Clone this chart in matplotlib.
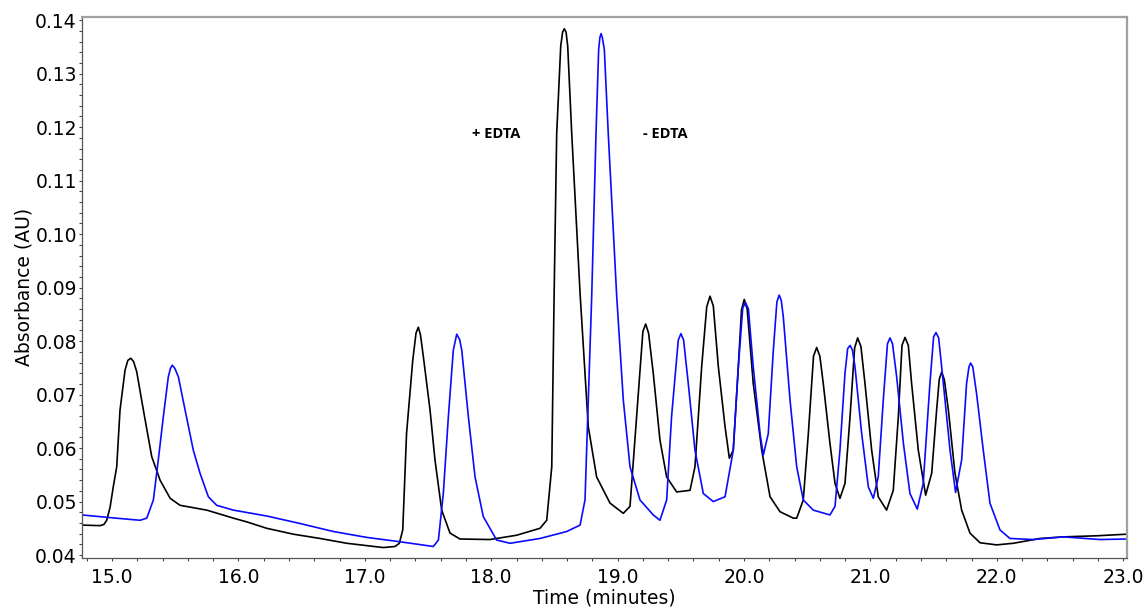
import matplotlib
matplotlib.use("Agg")
import matplotlib.pyplot as plt
from matplotlib.ticker import MultipleLocator, FormatStrFormatter

plt.rcParams["font.family"] = ["DejaVu Sans"]

# +EDTA trace (black)
time_plus = [14.76, 14.905, 14.935, 14.958, 14.985, 15.01, 15.037, 15.063, 15.103, 15.125, 15.148,
             15.17, 15.195, 15.248, 15.314, 15.38, 15.46, 15.538, 15.749, 15.96, 16.066, 16.224,
             16.434, 16.646, 16.857, 17.146, 17.239, 17.273, 17.3, 17.33, 17.379, 17.405, 17.423,
             17.44, 17.463, 17.516, 17.555, 17.608, 17.674, 17.753, 17.99, 18.2, 18.386, 18.439,
             18.479, 18.497, 18.518, 18.55, 18.565, 18.578, 18.592, 18.605, 18.637, 18.703, 18.768,
             18.834, 18.94, 19.045, 19.098, 19.15, 19.2, 19.222, 19.245, 19.282, 19.335, 19.388,
             19.467, 19.573, 19.612, 19.665, 19.705, 19.731, 19.757, 19.797, 19.85, 19.884, 19.915,
             19.955, 19.98, 20.002, 20.025, 20.073, 20.14, 20.206, 20.285, 20.39, 20.417, 20.469,
             20.509, 20.55, 20.575, 20.6, 20.627, 20.68, 20.72, 20.759, 20.799, 20.839, 20.875,
             20.899, 20.925, 20.957, 21.01, 21.062, 21.128, 21.181, 21.221, 21.25, 21.274, 21.3,
             21.326, 21.379, 21.437, 21.485, 21.524, 21.545, 21.564, 21.585, 21.617, 21.669,
             21.722, 21.788, 21.867, 21.999, 22.131, 22.342, 22.527, 22.79, 23.027]
abs_plus = [0.0456, 0.0455, 0.0457, 0.0465, 0.049, 0.0528, 0.0565, 0.0671, 0.0746, 0.0764, 0.0768,
            0.0762, 0.0743, 0.0671, 0.0584, 0.054, 0.0506, 0.0493, 0.0484, 0.0469, 0.0462, 0.045,
            0.0439, 0.0431, 0.0422, 0.0414, 0.0416, 0.0422, 0.0447, 0.0627, 0.0764, 0.0815, 0.0826,
            0.0812, 0.0771, 0.0671, 0.0578, 0.0484, 0.0441, 0.043, 0.0429, 0.0437, 0.045, 0.0465,
            0.0565, 0.0877, 0.1188, 0.1352, 0.1378, 0.1384, 0.1378, 0.1352, 0.1188, 0.0889, 0.064,
            0.0546, 0.0497, 0.0478, 0.0491, 0.0659, 0.0818, 0.0832, 0.0815, 0.074, 0.0615, 0.0546,
            0.0518, 0.0521, 0.0565, 0.0752, 0.0864, 0.0884, 0.0866, 0.0752, 0.064, 0.0581, 0.0596,
            0.0752, 0.0858, 0.0878, 0.086, 0.0721, 0.0596, 0.0509, 0.0481, 0.0469, 0.0469, 0.0503,
            0.0627, 0.0772, 0.0788, 0.0772, 0.0721, 0.0609, 0.0534, 0.0506, 0.0534, 0.0659, 0.0787,
            0.0806, 0.079, 0.0721, 0.0596, 0.0509, 0.0484, 0.0521, 0.0659, 0.0792, 0.0807, 0.0792,
            0.0721, 0.0596, 0.0512, 0.0553, 0.0671, 0.0729, 0.0742, 0.0728, 0.0671, 0.0553,
            0.0484, 0.0441, 0.0423, 0.0419, 0.0422, 0.0431, 0.0434, 0.0436, 0.0439]

# -EDTA trace (blue)
time_minus = [14.76, 14.984, 15.222, 15.275, 15.327, 15.366, 15.406, 15.445, 15.462, 15.477, 15.497,
              15.525, 15.578, 15.643, 15.696, 15.762, 15.828, 15.96, 16.224, 16.487, 16.751, 17.015,
              17.273, 17.542, 17.582, 17.621, 17.661, 17.7, 17.727, 17.75, 17.767, 17.819, 17.872,
              17.937, 18.043, 18.149, 18.386, 18.597, 18.703, 18.742, 18.768, 18.795, 18.829, 18.85,
              18.86, 18.869, 18.879, 18.895, 18.926, 18.993, 19.045, 19.098, 19.177, 19.282, 19.335,
              19.388, 19.427, 19.48, 19.501, 19.522, 19.559, 19.612, 19.678, 19.757, 19.85, 19.915,
              19.955, 19.99, 20.012, 20.035, 20.073, 20.127, 20.153, 20.192, 20.232, 20.26, 20.278,
              20.295, 20.311, 20.364, 20.417, 20.469, 20.548, 20.68, 20.72, 20.759, 20.799, 20.82,
              20.839, 20.858, 20.878, 20.931, 20.984, 21.023, 21.062, 21.102, 21.135, 21.155, 21.175,
              21.208, 21.261, 21.313, 21.371, 21.418, 21.471, 21.5, 21.519, 21.54, 21.572, 21.63,
              21.674, 21.722, 21.761, 21.78, 21.793, 21.81, 21.84, 21.893, 21.946, 22.025, 22.104,
              22.289, 22.527, 22.816, 23.027]
abs_minus = [0.0475, 0.047, 0.0465, 0.0469, 0.0503, 0.0578, 0.0659, 0.0733, 0.0749, 0.0755, 0.0749,
             0.0733, 0.0671, 0.0596, 0.0553, 0.0509, 0.0493, 0.0484, 0.0473, 0.0459, 0.0444, 0.0433,
             0.0425, 0.0416, 0.0428, 0.0515, 0.0659, 0.0783, 0.0813, 0.0803, 0.0783, 0.0659, 0.0546,
             0.0472, 0.0428, 0.0422, 0.0431, 0.0444, 0.0456, 0.0503, 0.069, 0.0883, 0.1188, 0.1345,
             0.1368, 0.1375, 0.1368, 0.1345, 0.1188, 0.0883, 0.069, 0.0565, 0.0503, 0.0475, 0.0465,
             0.0503, 0.0659, 0.0802, 0.0814, 0.0802, 0.0721, 0.0596, 0.0515, 0.05, 0.0509, 0.0596,
             0.0752, 0.0862, 0.0872, 0.086, 0.0752, 0.0627, 0.0587, 0.0627, 0.0783, 0.0873, 0.0886,
             0.0876, 0.0845, 0.069, 0.0565, 0.0503, 0.0484, 0.0475, 0.0491, 0.0596, 0.074, 0.0786,
             0.0792, 0.0783, 0.0752, 0.0627, 0.0527, 0.0506, 0.0546, 0.069, 0.0795, 0.0806, 0.0795,
             0.0733, 0.0609, 0.0515, 0.0486, 0.0534, 0.0721, 0.0808, 0.0816, 0.0806, 0.0733, 0.0596,
             0.0517, 0.0578, 0.0721, 0.0752, 0.0759, 0.0752, 0.0702, 0.0596, 0.0497, 0.0447, 0.0431,
             0.0429, 0.0434, 0.0429, 0.043]

fig = plt.figure(figsize=(11.46, 6.08), dpi=100)
ax = fig.add_axes([0.0713, 0.0827, 0.9121, 0.8893])

ax.plot(time_plus, abs_plus, color="black", lw=1.2)
ax.plot(time_minus, abs_minus, color="#0a0aff", lw=1.2)

ax.text(18.04, 0.1188, "+ EDTA", fontsize=10.5, fontweight="bold", family=["Open Sans", "DejaVu Sans"],
        ha="center", va="center")
ax.text(19.38, 0.1188, "- EDTA", fontsize=10.5, fontweight="bold", family=["Open Sans", "DejaVu Sans"],
        ha="center", va="center")

ax.set_xlim(14.76, 23.03)
ax.set_ylim(0.0395, 0.1406)
ax.xaxis.set_major_locator(MultipleLocator(1.0))
ax.xaxis.set_minor_locator(MultipleLocator(0.2))
ax.xaxis.set_major_formatter(FormatStrFormatter("%.1f"))
ax.yaxis.set_major_locator(MultipleLocator(0.01))
ax.yaxis.set_minor_locator(MultipleLocator(0.002))
ax.yaxis.set_major_formatter(FormatStrFormatter("%.2f"))
ax.tick_params(which="both", direction="out", length=2.5, width=0.8, colors="#444444",
               labelsize=13.5, labelcolor="black")
ax.tick_params(axis="y", pad=1)
ax.tick_params(axis="x", pad=5)

for side in ["top", "right"]:
    ax.spines[side].set_color("#a0a0a0")
    ax.spines[side].set_linewidth(1.6)
for side in ["left", "bottom"]:
    ax.spines[side].set_color("#555555")
    ax.spines[side].set_linewidth(0.9)

ax.set_xlabel("Time (minutes)", fontsize=13.5, labelpad=1)
ax.set_ylabel("Absorbance (AU)", fontsize=13.5, labelpad=1)

fig.savefig("out.png", dpi=100)
